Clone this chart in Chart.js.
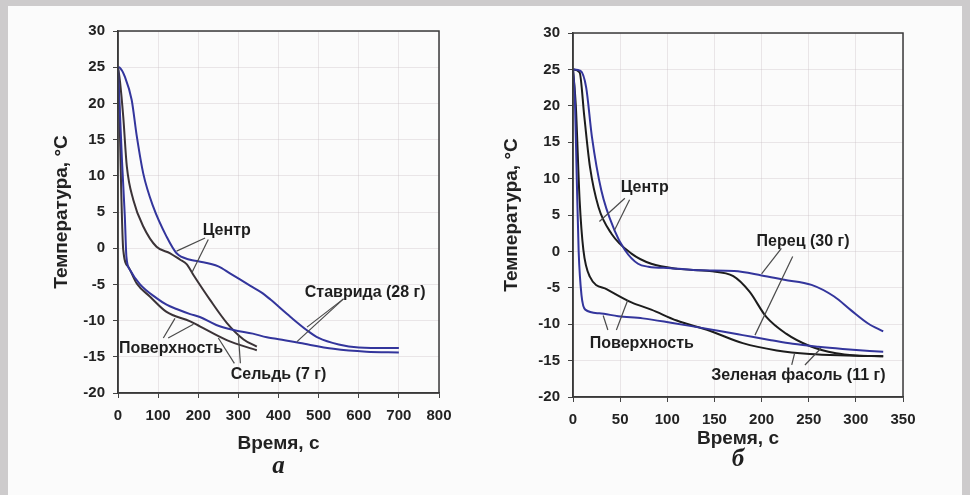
<!DOCTYPE html>
<html>
<head>
<meta charset="utf-8">
<script src="https://cdn.jsdelivr.net/npm/chart.js@4.4.0/dist/chart.umd.min.js"></script>
<style>
html, body { margin: 0; padding: 0; }
body { width: 970px; height: 495px; background: #cdcbcc; position: relative; overflow: hidden; }
#paper { position: absolute; left: 8px; top: 6px; width: 954px; height: 489px; background: #fbfbfb; }
canvas { position: absolute; top: 0; }
#chartA { left: 0; }
#chartB { left: 485px; }
</style>
</head>
<body>
<div id="paper"></div>
<canvas id="chartA" width="485" height="495"></canvas>
<canvas id="chartB" width="485" height="495"></canvas>
<script>
// ---- chart "а": ставрида (28 г) и сельдь (7 г)
const mackerelCenterTime = [0, 5, 17, 34, 47, 63, 88, 121, 146, 180, 200, 250, 280, 330, 360, 380, 430, 470, 500, 550, 600, 700];
const mackerelCenterTemp = [25, 24.9, 23.7, 20.5, 15.4, 10.3, 5.7, 1.6, -0.7, -1.6, -1.8, -2.5, -3.5, -5.2, -6.2, -7.1, -9.5, -11.3, -12.4, -13.3, -13.7, -13.8];

const mackerelSurfaceTime = [0, 10, 17, 21, 30, 55, 96, 121, 146, 180, 204, 245, 288, 336, 371, 394, 454, 537, 619, 700];
const mackerelSurfaceTemp = [25, 12, 4.4, -1.2, -3.0, -5.0, -6.9, -7.8, -8.4, -9.1, -9.5, -10.6, -11.3, -11.8, -12.3, -12.5, -13.1, -13.9, -14.3, -14.4];

const herringCenterTime = [0, 5, 13, 22, 38, 63, 96, 130, 155, 171, 188, 229, 271, 313, 346];
const herringCenterTemp = [25, 23, 18.2, 11.3, 6.7, 3.0, 0.2, -0.7, -1.6, -2.2, -3.7, -7.1, -10.3, -12.6, -13.6];

const herringSurfaceTime = [0, 4, 8, 13, 26, 47, 80, 121, 180, 204, 271, 346];
const herringSurfaceTemp = [25, 18, 8, -0.2, -2.6, -4.9, -6.7, -8.8, -10.1, -10.8, -12.7, -14.1];

// ---- chart "б": перец (30 г) и зеленая фасоль (11 г)
const pepperCenterTime = [0, 8, 14, 20, 30, 44, 55, 69, 80, 104, 136, 171, 200, 224, 253, 277, 295, 313, 329];
const pepperCenterTemp = [25, 24.8, 22.5, 15.8, 8.4, 2.9, 0.2, -1.7, -2.1, -2.3, -2.6, -2.7, -3.3, -3.9, -4.6, -6.2, -8.1, -9.9, -11.0];

const pepperSurfaceTime = [0, 2, 4, 6, 9, 13, 28, 48, 74, 104, 127, 154, 180, 210, 233, 260, 286, 329];
const pepperSurfaceTemp = [25, 21, 10, 0, -6.0, -8.0, -8.5, -8.9, -9.2, -9.8, -10.3, -10.9, -11.5, -12.2, -12.7, -13.1, -13.4, -13.8];

const beanCenterTime = [0, 7, 12, 18, 27, 41, 62, 83, 111, 145, 170, 187, 205, 226, 251, 279, 300, 329];
const beanCenterTemp = [25, 24.6, 18.5, 11.6, 6.1, 2.4, -0.3, -1.7, -2.4, -2.7, -3.4, -5.5, -9.0, -11.3, -13.0, -14.0, -14.3, -14.4];

const beanSurfaceTime = [0, 3, 7, 11, 18, 36, 62, 83, 110, 145, 180, 216, 251, 290, 329];
const beanSurfaceTemp = [25, 20, 7.1, 0.2, -3.5, -5.2, -7.0, -8.0, -9.5, -10.9, -12.6, -13.6, -14.1, -14.3, -14.4];

const tempTicks = { min: -20, max: 30, step: 5 };

const BLUE = '#33359c';
const FONT = '"Liberation Sans", Arial, sans-serif';

function toPoints(xs, ys) {
    return xs.map((t, i) => ({ x: t, y: ys[i] }));
}

function series(xs, ys, color) {
    return {
        data: toPoints(xs, ys),
        borderColor: color,
        borderWidth: 2,
        pointRadius: 0,
        fill: false,
        cubicInterpolationMode: 'monotone'
    };
}

// labels, leader lines and the caption under each chart
const notesPlugin = {
    id: 'notes',
    afterDatasetsDraw(chart, args, opts) {
        const { ctx, chartArea, scales } = chart;
        const px = t => scales.x.getPixelForValue(t);
        const py = v => scales.y.getPixelForValue(v);
        ctx.save();
        ctx.strokeStyle = '#3a3a3a';
        ctx.lineWidth = 1.5;
        ctx.strokeRect(chartArea.left, chartArea.top, chartArea.width, chartArea.height);

        ctx.strokeStyle = '#4a4a4a';
        ctx.lineWidth = 1.2;
        opts.leaders.forEach(([t1, v1, t2, v2]) => {
            ctx.beginPath();
            ctx.moveTo(px(t1), py(v1));
            ctx.lineTo(px(t2), py(v2));
            ctx.stroke();
        });

        ctx.fillStyle = '#1e1e1e';
        ctx.font = 'bold 16px ' + FONT;
        ctx.textAlign = 'center';
        ctx.textBaseline = 'middle';
        opts.labels.forEach(l => ctx.fillText(l.text, px(l.t), py(l.v)));

        ctx.font = 'italic bold 25px "Liberation Serif", serif';
        ctx.textBaseline = 'alphabetic';
        ctx.fillText(opts.caption, (chartArea.left + chartArea.right) / 2, opts.captionY);
        ctx.restore();
    }
};

function makeChart(id, datasets, cfg) {
    const ctx = document.getElementById(id).getContext('2d');
    return new Chart(ctx, {
        type: 'line',
        data: { datasets: datasets },
        plugins: [notesPlugin],
        options: {
            responsive: false,
            animation: false,
            events: [],
            layout: { padding: { left: 0, right: cfg.padRight, top: cfg.padTop, bottom: 0 } },
            plugins: {
                legend: { display: false },
                tooltip: { enabled: false },
                notes: cfg.notes
            },
            scales: {
                x: {
                    type: 'linear',
                    min: 0,
                    max: cfg.xMax,
                    afterFit: s => { s.height = cfg.xAxisHeight; },
                    ticks: {
                        stepSize: cfg.xStep,
                        color: '#222',
                        padding: 9,
                        maxRotation: 0,
                        font: { family: FONT, size: 15, weight: 'bold' }
                    },
                    grid: { color: 'rgba(200,190,195,0.35)', tickColor: '#444', tickLength: 5 },
                    border: { color: '#3a3a3a', width: 1.5 },
                    title: {
                        display: true,
                        text: 'Время, с',
                        color: '#222',
                        padding: { top: 0, bottom: cfg.xTitlePad },
                        font: { family: FONT, size: 19, weight: 'bold' }
                    }
                },
                y: {
                    min: tempTicks.min,
                    max: tempTicks.max,
                    afterFit: s => { s.width = cfg.yAxisWidth; },
                    ticks: {
                        stepSize: tempTicks.step,
                        color: '#222',
                        padding: 8,
                        font: { family: FONT, size: 15, weight: 'bold' }
                    },
                    grid: { color: 'rgba(200,190,195,0.35)', tickColor: '#444', tickLength: 5 },
                    border: { color: '#3a3a3a', width: 1.5 },
                    title: {
                        display: true,
                        text: 'Температура, °C',
                        color: '#222',
                        padding: { top: cfg.yTitlePad, bottom: 0 },
                        font: { family: FONT, size: 19, weight: 'bold' }
                    }
                }
            }
        }
    });
}

makeChart('chartA', [
    series(mackerelCenterTime, mackerelCenterTemp, BLUE),
    series(mackerelSurfaceTime, mackerelSurfaceTemp, BLUE),
    series(herringCenterTime, herringCenterTemp, '#3b3337'),
    series(herringSurfaceTime, herringSurfaceTemp, '#3b3337')
], {
    xMax: 800, xStep: 100,
    padRight: 46, padTop: 31,
    xAxisHeight: 102, yAxisWidth: 118,
    xTitlePad: 40, yTitlePad: 50,
    notes: {
        labels: [
            { text: 'Центр', t: 271, v: 2.5 },
            { text: 'Ставрида (28 г)', t: 616, v: -6.2 },
            { text: 'Поверхность', t: 132, v: -13.8 },
            { text: 'Сельдь (7 г)', t: 400, v: -17.5 }
        ],
        leaders: [
            [217, 1.4, 146, -0.4], [225, 1.2, 184, -3.4],
            [562, -7.0, 471, -10.9], [562, -7.0, 446, -12.9],
            [113, -12.4, 142, -9.7], [125, -12.4, 188, -10.5],
            [290, -15.9, 250, -12.4], [305, -15.9, 300, -12.0]
        ],
        caption: 'а',
        captionY: 473
    }
});

makeChart('chartB', [
    series(pepperCenterTime, pepperCenterTemp, BLUE),
    series(pepperSurfaceTime, pepperSurfaceTemp, BLUE),
    series(beanCenterTime, beanCenterTemp, '#1c1c1c'),
    series(beanSurfaceTime, beanSurfaceTemp, '#1c1c1c')
], {
    xMax: 350, xStep: 50,
    padRight: 67, padTop: 33,
    xAxisHeight: 98, yAxisWidth: 88,
    xTitlePad: 45, yTitlePad: 15,
    notes: {
        labels: [
            { text: 'Центр', t: 76, v: 8.7 },
            { text: 'Перец (30 г)', t: 244, v: 1.3 },
            { text: 'Поверхность', t: 73, v: -12.7 },
            { text: 'Зеленая фасоль (11 г)', t: 239, v: -17.0 }
        ],
        leaders: [
            [55, 7.3, 28, 4.1], [60, 7.1, 44, 2.9],
            [221, 0.4, 200, -3.1], [233, -0.7, 193, -11.5],
            [37, -10.8, 32, -8.8], [46, -10.8, 58, -6.7],
            [232, -15.6, 235, -14.0], [246, -15.6, 263, -13.3]
        ],
        caption: 'б',
        captionY: 466
    }
});
</script>
</body>
</html>
